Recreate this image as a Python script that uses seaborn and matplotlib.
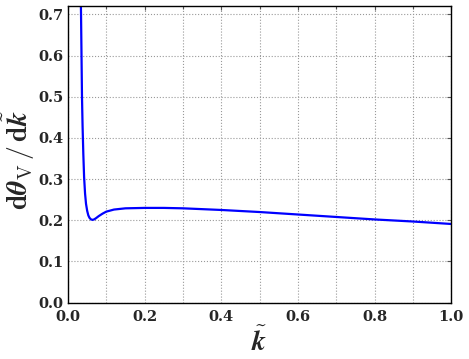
import numpy as np
import pandas as pd
import matplotlib
matplotlib.use('Agg')
import matplotlib.pyplot as plt
import seaborn as sns
from matplotlib.ticker import MultipleLocator, FormatStrFormatter

# values
k_tilde = [0.0330, 0.0340, 0.0350, 0.0365, 0.0380, 0.0400, 0.0420, 0.0445,
           0.0470, 0.0500, 0.0530, 0.0560, 0.0600, 0.0640, 0.0680, 0.0730,
           0.0800, 0.0900, 0.1000, 0.1200, 0.1500, 0.2000, 0.2500, 0.3000,
           0.4000, 0.5000, 0.6000, 0.7000, 0.8000, 0.9000, 1.0000]
dtheta_dk = [0.760, 0.700, 0.620, 0.500, 0.430, 0.360, 0.305, 0.265,
             0.240, 0.223, 0.212, 0.206, 0.202, 0.201, 0.202, 0.205,
             0.210, 0.216, 0.221, 0.226, 0.229, 0.230, 0.230, 0.229,
             0.225, 0.220, 0.214, 0.208, 0.202, 0.197, 0.191]

df = pd.DataFrame({'k': k_tilde, 'd': dtheta_dk})

sns.set_style('white')
plt.rcParams['mathtext.fontset'] = 'cm'
plt.rcParams['font.family'] = ['DejaVu Serif']

fig = plt.figure(figsize=(4.69, 3.59), dpi=100)
ax = fig.add_axes([0.145, 0.157, 0.817, 0.826])
sns.lineplot(data=df, x='k', y='d', ax=ax, color='#0000ff', linewidth=1.6)

ax.set_xlim(0, 1.0)
ax.set_ylim(0, 0.72)
ax.xaxis.set_major_locator(MultipleLocator(0.2))
ax.xaxis.set_minor_locator(MultipleLocator(0.1))
ax.yaxis.set_major_locator(MultipleLocator(0.1))
ax.xaxis.set_major_formatter(FormatStrFormatter('%.1f'))
ax.yaxis.set_major_formatter(FormatStrFormatter('%.1f'))
ax.tick_params(which='both', direction='in', top=True, right=True,
               labelsize=10.5, length=3, width=0.8, color='#555555')
ax.tick_params(which='minor', length=2)
ax.tick_params(axis='x', pad=5)
for lab in ax.get_xticklabels() + ax.get_yticklabels():
    lab.set_fontweight('bold')
ax.grid(True, which='both', linestyle=':', color='#999999', linewidth=0.8)
for s in ax.spines.values():
    s.set_color('black')
    s.set_linewidth(1.0)

ax.set_xlabel(r'$\tilde{\mathbfit{k}}$', fontsize=20)
ax.xaxis.set_label_coords(0.5, -0.085)
ax.set_ylabel(r'$\mathbf{d}\mathbfit{\theta}_{\mathrm{V}}\,/\,\mathbf{d}\tilde{\mathbfit{k}}$',
              fontsize=20)
ax.yaxis.set_label_coords(-0.082, 0.48)

fig.savefig('out.png', dpi=100)
